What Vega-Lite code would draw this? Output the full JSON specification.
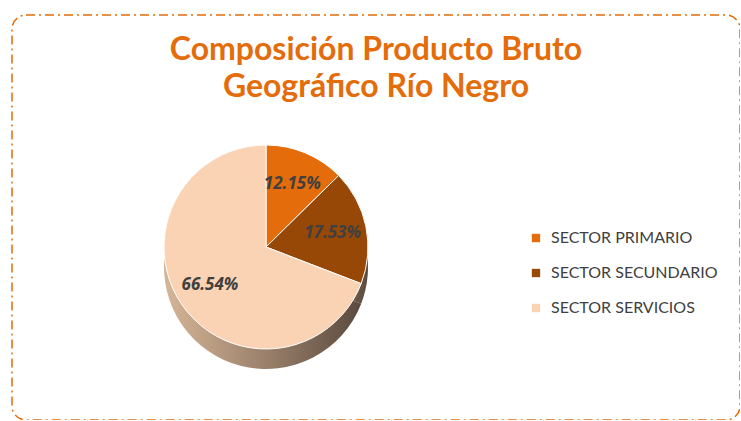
{
  "$schema": "https://vega.github.io/schema/vega-lite/v6.json",
  "width": 728,
  "height": 405,
  "autosize": "none",
  "padding": {"left": 12, "top": 15, "right": 0, "bottom": 0},
  "background": "white",
  "config": {
    "view": {"stroke": "#E46C0A", "strokeWidth": 1.5, "strokeDash": [9, 4, 2, 4], "cornerRadius": 14},
    "font": "Lato"
  },
  "title": {
    "text": ["Composición Producto Bruto", "Geográfico Río Negro"],
    "orient": "top",
    "anchor": "middle",
    "frame": "group",
    "baseline": "alphabetic",
    "offset": -114,
    "fontSize": 32,
    "lineHeight": 37,
    "font": "Lato",
    "fontWeight": "bold",
    "color": "#E46C0A"
  },
  "data": {
    "values": [
      {"sector": "SECTOR PRIMARIO", "valor": 12.15, "etiqueta": "12.15%", "orden": 1},
      {"sector": "SECTOR SECUNDARIO", "valor": 17.53, "etiqueta": "17.53%", "orden": 2},
      {"sector": "SECTOR SERVICIOS", "valor": 66.54, "etiqueta": "66.54%", "orden": 3}
    ]
  },
  "encoding": {
    "theta": {"field": "valor", "type": "quantitative", "stack": true},
    "order": {"field": "orden", "type": "quantitative"}
  },
  "layer": [
    {
      "mark": {
        "type": "arc",
        "outerRadius": 102,
        "fill": {
          "gradient": "linear",
          "x1": 0, "y1": 0, "x2": 1, "y2": 0,
          "stops": [
            {"offset": 0, "color": "#D6B597"},
            {"offset": 0.5, "color": "#9C826C"},
            {"offset": 1, "color": "#5A4A3E"}
          ]
        }
      },
      "encoding": {
        "x": {"value": 254},
        "y": {"value": 252}
      }
    },
    {
      "mark": {"type": "arc", "outerRadius": 102, "stroke": "white", "strokeWidth": 1},
      "encoding": {
        "x": {"value": 254},
        "y": {"value": 232},
        "color": {
          "field": "sector",
          "type": "nominal",
          "scale": {
            "domain": ["SECTOR PRIMARIO", "SECTOR SECUNDARIO", "SECTOR SERVICIOS"],
            "range": ["#E46C0A", "#974806", "#FAD3B5"]
          },
          "legend": {
            "title": null,
            "orient": "none",
            "legendX": 516,
            "legendY": 215,
            "symbolType": "square",
            "symbolSize": 70,
            "symbolStrokeWidth": 0,
            "labelFont": "Lato",
            "labelFontSize": 16,
            "labelColor": "#404040",
            "labelLimit": 300,
            "rowPadding": 19,
            "labelOffset": 7
          }
        }
      }
    },
    {
      "mark": {"type": "text", "radius": 68, "font": "Open Sans", "fontSize": 17, "fontStyle": "italic", "fontWeight": "bold", "fill": "#404040"},
      "encoding": {
        "x": {"value": 254},
        "y": {"value": 232},
        "text": {"field": "etiqueta", "type": "nominal"}
      }
    }
  ]
}
